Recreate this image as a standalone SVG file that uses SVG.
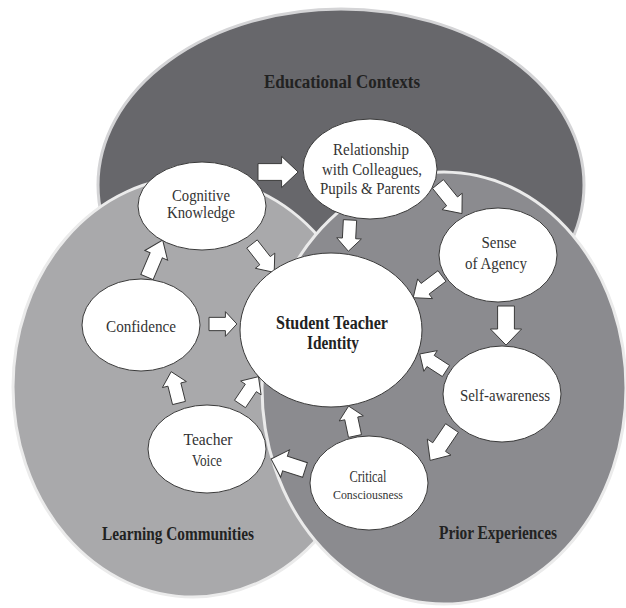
<svg xmlns="http://www.w3.org/2000/svg" xmlns:xlink="http://www.w3.org/1999/xlink" width="626" height="608" viewBox="0 0 626 608">
  <style>
    .area { stroke-width: 3; }
    .node ellipse { fill: #ffffff; stroke: #3a3a3a; stroke-width: 1; }
    .node text { font-family: "Liberation Serif", "Times New Roman", serif; font-size: 16px; fill: #333333; text-anchor: middle; }
    .label { font-family: "Liberation Serif", "Times New Roman", serif; font-size: 18px; font-weight: bold; fill: #222222; text-anchor: middle; }
    .arrow { fill: #ffffff; stroke: #3a3a3a; stroke-width: 1; }
  </style>
  <defs>
    <!-- block arrow pointing right, tail at origin -->
    <path id="blk" d="M0,-7 H20 V-13 L34,0 L20,13 V7 H0 Z" vector-effect="non-scaling-stroke"/>
  </defs>

  <rect width="626" height="608" fill="#ffffff"/>

  <!-- overlapping context areas -->
  <g id="educational-contexts">
    <ellipse class="area" cx="341" cy="185" rx="243" ry="176" fill="#67676b" stroke="#d4d4d6"/>
    <text class="label" x="342" y="88" textLength="156" lengthAdjust="spacingAndGlyphs">Educational Contexts</text>
  </g>
  <g id="learning-communities">
    <ellipse class="area" cx="193" cy="387" rx="180" ry="210" fill="#a9a9ab" stroke="#ebebeb"/>
    <text class="label" x="178" y="540" textLength="152" lengthAdjust="spacingAndGlyphs">Learning Communities</text>
  </g>
  <g id="prior-experiences">
    <ellipse class="area" cx="444" cy="388" rx="182" ry="216" fill="#8b8b8f" stroke="#ebebeb"/>
    <text class="label" x="498" y="539" textLength="118" lengthAdjust="spacingAndGlyphs">Prior Experiences</text>
  </g>

  <!-- connectors -->
  <g id="connectors" class="arrow">
    <use xlink:href="#blk" transform="translate(258,172) rotate(0) scale(1.18,1.2)"/>
    <use xlink:href="#blk" transform="translate(438,184) rotate(51) scale(1.12,1)"/>
    <use xlink:href="#blk" transform="translate(350,220) rotate(93) scale(0.92,0.95)"/>
    <use xlink:href="#blk" transform="translate(252,244) rotate(52) scale(1.06,0.95)"/>
    <use xlink:href="#blk" transform="translate(442,276) rotate(143) scale(1.06,0.95)"/>
    <use xlink:href="#blk" transform="translate(506,306) rotate(90) scale(1.15,1.2)"/>
    <use xlink:href="#blk" transform="translate(446,371) rotate(-147) scale(0.92,0.95)"/>
    <use xlink:href="#blk" transform="translate(452,428) rotate(124) scale(1.15,1.1)"/>
    <use xlink:href="#blk" transform="translate(355,436) rotate(-102) scale(0.9,0.95)"/>
    <use xlink:href="#blk" transform="translate(305,470) rotate(-162) scale(1.05,1.1)"/>
    <use xlink:href="#blk" transform="translate(240,404) rotate(-56) scale(0.97,0.95)"/>
    <use xlink:href="#blk" transform="translate(179,403) rotate(-104) scale(0.95,0.95)"/>
    <use xlink:href="#blk" transform="translate(209,324) rotate(0) scale(0.82,0.95)"/>
    <use xlink:href="#blk" transform="translate(147,277) rotate(-67) scale(1.18,0.95)"/>
  </g>

  <!-- concept nodes -->
  <g id="cognitive-knowledge" class="node">
    <ellipse cx="202" cy="206" rx="64" ry="44"/>
    <text x="201" y="201" textLength="58" lengthAdjust="spacingAndGlyphs">Cognitive</text>
    <text x="201" y="218" textLength="68" lengthAdjust="spacingAndGlyphs">Knowledge</text>
  </g>
  <g id="relationship" class="node">
    <ellipse cx="370" cy="169" rx="67" ry="50"/>
    <text x="371" y="155" textLength="76" lengthAdjust="spacingAndGlyphs">Relationship</text>
    <text x="372" y="175" textLength="100" lengthAdjust="spacingAndGlyphs">with Colleagues,</text>
    <text x="370" y="194" textLength="100" lengthAdjust="spacingAndGlyphs">Pupils &amp; Parents</text>
  </g>
  <g id="sense-of-agency" class="node">
    <ellipse cx="498" cy="255" rx="59" ry="47"/>
    <text x="499" y="248" textLength="35" lengthAdjust="spacingAndGlyphs">Sense</text>
    <text x="496" y="269" textLength="62" lengthAdjust="spacingAndGlyphs">of Agency</text>
  </g>
  <g id="student-teacher-identity" class="node">
    <ellipse cx="331" cy="330" rx="91" ry="77"/>
    <text x="332" y="329" textLength="112" lengthAdjust="spacingAndGlyphs" font-weight="bold" style="font-size:18px;fill:#222222">Student Teacher</text>
    <text x="333" y="349" textLength="52" lengthAdjust="spacingAndGlyphs" font-weight="bold" style="font-size:18px;fill:#222222">Identity</text>
  </g>
  <g id="confidence" class="node">
    <ellipse cx="141" cy="325" rx="59" ry="46"/>
    <text x="141" y="332" textLength="70" lengthAdjust="spacingAndGlyphs">Confidence</text>
  </g>
  <g id="self-awareness" class="node">
    <ellipse cx="502" cy="394" rx="59" ry="48"/>
    <text x="505" y="401" textLength="90" lengthAdjust="spacingAndGlyphs">Self-awareness</text>
  </g>
  <g id="critical-consciousness" class="node">
    <ellipse cx="369" cy="483" rx="59" ry="47"/>
    <text x="368" y="482" textLength="37" lengthAdjust="spacingAndGlyphs">Critical</text>
    <text x="368" y="499" textLength="70" lengthAdjust="spacingAndGlyphs" style="font-size:13px">Consciousness</text>
  </g>
  <g id="teacher-voice" class="node">
    <ellipse cx="207" cy="449" rx="59" ry="44"/>
    <text x="208" y="445" textLength="49" lengthAdjust="spacingAndGlyphs">Teacher</text>
    <text x="207" y="466" textLength="30" lengthAdjust="spacingAndGlyphs">Voice</text>
  </g>
</svg>
